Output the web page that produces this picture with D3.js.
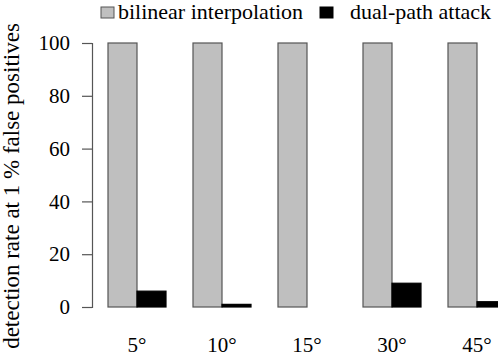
<!DOCTYPE html>
<html>
<head>
<meta charset="utf-8">
<script src="https://cdn.jsdelivr.net/npm/d3@7"></script>
</head>
<body style="margin:0">
<svg id="chart" width="498" height="358"></svg>
<script>
// Rotation angles and detection rates (%) at 1 % false positives
const angles = ["5°", "10°", "15°", "30°", "45°"];
const seriesNames = ["bilinear interpolation", "dual-path attack"];
const bilinear = [100, 100, 100, 100, 100];
const dualPath = [6, 1, 0, 9, 2];
const yTicks = [0, 20, 40, 60, 80, 100];

const colors = ["#bfbfbf", "#000000"];
const svg = d3.select("#chart");

const W = 498, H = 358;
const margin = { left: 92, top: 43, bottom: 51 };

const y = d3.scaleLinear().domain([0, 100]).range([H - margin.bottom, margin.top]);

// outer band: one slot per angle, inner band: one bar per series
const x0 = d3.scaleBand().domain(angles)
  .range([108, 108 + 85 * 5 - 27])
  .paddingInner(27 / 85).paddingOuter(0);
const x1 = d3.scaleBand().domain(seriesNames).range([0, x0.bandwidth()]).padding(0);

const rows = angles.map((a, i) => ({ angle: a, values: [bilinear[i], dualPath[i]] }));

const groups = svg.append("g").selectAll("g")
  .data(rows).join("g")
  .attr("transform", d => `translate(${x0(d.angle)},0)`);

groups.selectAll("rect")
  .data(d => d.values.map((v, j) => ({ key: seriesNames[j], v, j })))
  .join("rect")
  .attr("x", d => x1(d.key))
  .attr("y", d => y(d.v))
  .attr("width", x1.bandwidth())
  .attr("height", d => y(0) - y(d.v))
  .attr("fill", d => colors[d.j])
  .attr("stroke", d => d.j === 0 ? "#555" : "#000")
  .attr("stroke-width", 1.2);

// serif text helper
function serif(sel, size) {
  return sel.attr("font-size", size)
    .style("font-family", () => "'Liberation Serif'");
}

// y axis
const yAxis = d3.axisLeft(y).tickValues(yTicks).tickSize(10).tickPadding(12);
const gy = svg.append("g").attr("transform", `translate(${margin.left},0)`).call(yAxis);
gy.attr("font-family", null).attr("font-size", null);
gy.select(".domain").attr("stroke", "#555").attr("stroke-width", 1.2);
gy.selectAll(".tick line").attr("stroke", "#555").attr("stroke-width", 1.2);
serif(gy.selectAll(".tick text").attr("fill", "#000"), 21);

// x labels
serif(svg.append("g").selectAll("text")
  .data(angles).join("text")
  .attr("x", d => x0(d) + x0.bandwidth() / 2)
  .attr("y", 352)
  .attr("text-anchor", "middle"), 21)
  .text(d => d);

// y title
serif(svg.append("text")
  .attr("transform", `translate(19,186) rotate(-90)`)
  .attr("text-anchor", "middle"), 23)
  .text("detection rate at 1 % false positives");

// legend
const legend = svg.append("g");
const legendItems = [
  { name: seriesNames[0], sx: 101, tx: 118 },
  { name: seriesNames[1], sx: 320, tx: 350 }
];
legend.selectAll("rect").data(legendItems).join("rect")
  .attr("x", d => d.sx).attr("y", 7).attr("width", 13).attr("height", 11)
  .attr("fill", (d, i) => colors[i])
  .attr("stroke", (d, i) => i === 0 ? "#555" : "#000").attr("stroke-width", 1);
serif(legend.selectAll("text").data(legendItems).join("text")
  .attr("x", d => d.tx).attr("y", 19), 22)
  .text(d => d.name);
</script>
</body>
</html>
